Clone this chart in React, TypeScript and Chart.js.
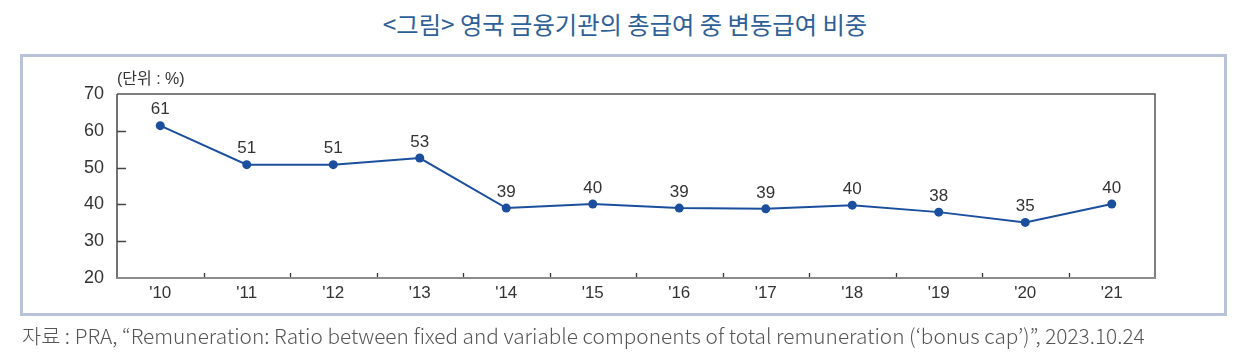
import React, { useEffect, useRef } from "react";
import { Chart, registerables } from "chart.js";

Chart.register(...registerables);

const TITLE = "<그림> 영국 금융기관의 총급여 중 변동급여 비중";
const UNIT_LABEL = "(단위 : %)";
const SOURCE =
  "자료 : PRA, “Remuneration: Ratio between fixed and variable components of total remuneration (‘bonus cap’)”, 2023.10.24";

const categories = ["'10", "'11", "'12", "'13", "'14", "'15", "'16", "'17", "'18", "'19", "'20", "'21"];
const shareValues = [61.4, 50.8, 50.8, 52.6, 39.0, 40.1, 39.0, 38.8, 39.8, 37.9, 35.1, 40.1];
const valueLabels = ["61", "51", "51", "53", "39", "40", "39", "39", "40", "38", "35", "40"];
const yTickValues = [20, 30, 40, 50, 60, 70];

const LINE_COLOR = "#1b4f9e";
const NUM_FONT = "'Liberation Sans', Arial, 'Noto Sans CJK KR', sans-serif";

const framePlugin = {
  id: "frame",
  beforeDatasetsDraw(chart: any) {
    const { ctx, chartArea, scales } = chart;
    const { left, right, top, bottom } = chartArea;
    const x = scales.x;
    const y = scales.y;
    ctx.save();
    ctx.lineCap = "butt";
    ctx.strokeStyle = "#555555";
    ctx.lineWidth = 1.5;
    ctx.beginPath();
    ctx.moveTo(left, top);
    ctx.lineTo(right, top);
    ctx.lineTo(right, bottom);
    ctx.stroke();
    ctx.strokeStyle = "#444444";
    ctx.beginPath();
    ctx.moveTo(left, top);
    ctx.lineTo(left, bottom);
    ctx.stroke();
    for (const v of yTickValues) {
      if (v === yTickValues[0] || v === yTickValues[yTickValues.length - 1]) continue;
      const py = Math.round(y.getPixelForValue(v)) + 0.5;
      ctx.beginPath();
      ctx.moveTo(left, py);
      ctx.lineTo(left + 9, py);
      ctx.stroke();
    }
    ctx.strokeStyle = "#333333";
    ctx.lineWidth = 1.3;
    for (let i = 1; i < categories.length; i++) {
      const px = Math.round((x.getPixelForValue(i - 1) + x.getPixelForValue(i)) / 2) + 0.5;
      ctx.beginPath();
      ctx.moveTo(px, bottom);
      ctx.lineTo(px, bottom - 5);
      ctx.stroke();
    }
    ctx.strokeStyle = "#8c8c8c";
    ctx.lineWidth = 2;
    ctx.beginPath();
    ctx.moveTo(left - 1, bottom);
    ctx.lineTo(right + 1, bottom);
    ctx.stroke();
    ctx.restore();
  },
};

const labelPlugin = {
  id: "valueLabels",
  afterDatasetsDraw(chart: any) {
    const { ctx } = chart;
    const meta = chart.getDatasetMeta(0);
    ctx.save();
    ctx.font = `17px ${NUM_FONT}`;
    ctx.fillStyle = "#333333";
    ctx.textAlign = "center";
    ctx.textBaseline = "middle";
    meta.data.forEach((pt: any, i: number) => {
      ctx.fillText(valueLabels[i], pt.x, pt.y - 16);
    });
    ctx.restore();
  },
};

export default function App() {
  const canvasRef = useRef<HTMLCanvasElement | null>(null);

  useEffect(() => {
    document.body.style.margin = "0";
    const canvas = canvasRef.current;
    if (!canvas) return;
    const chart = new Chart(canvas, {
      type: "line",
      data: {
        labels: categories,
        datasets: [
          {
            data: shareValues,
            borderColor: LINE_COLOR,
            backgroundColor: LINE_COLOR,
            borderWidth: 2,
            pointRadius: 4.5,
            pointBackgroundColor: LINE_COLOR,
            pointBorderColor: LINE_COLOR,
            pointBorderWidth: 0,
            tension: 0,
            fill: false,
          },
        ],
      },
      options: {
        animation: false,
        responsive: false,
        maintainAspectRatio: false,
        layout: { padding: { top: 94, right: 91, bottom: 52, left: 0 } },
        plugins: {
          legend: { display: false },
          tooltip: { enabled: false },
          title: { display: false },
        },
        scales: {
          x: {
            type: "category",
            offset: true,
            grid: { display: false, drawTicks: false },
            border: { display: false },
            ticks: {
              color: "#333333",
              font: { family: NUM_FONT, size: 17 },
              padding: 5,
              maxRotation: 0,
              autoSkip: false,
            },
            afterFit(scale: any) {
              scale.height = 30;
            },
          },
          y: {
            min: 20,
            max: 70,
            grid: { display: false, drawTicks: false },
            border: { display: false },
            ticks: {
              stepSize: 10,
              color: "#333333",
              font: { family: NUM_FONT, size: 18 },
              padding: 13,
            },
            afterFit(scale: any) {
              scale.width = 117;
            },
          },
        },
      },
      plugins: [framePlugin, labelPlugin],
    });
    return () => chart.destroy();
  }, []);

  return (
    <div style={{ position: "relative", width: 1246, height: 360, background: "#ffffff", overflow: "hidden" }}>
      <div
        style={{
          position: "absolute",
          left: 0,
          top: 8,
          width: 1250,
          textAlign: "center",
          fontFamily: "'Noto Sans CJK KR', sans-serif",
          fontSize: 24.3,
          lineHeight: "32px",
          color: "#2f5f98",
          whiteSpace: "nowrap",
        }}
      >
        {TITLE}
      </div>
      <div
        style={{
          position: "absolute",
          left: 20,
          top: 54,
          width: 1201,
          height: 256,
          border: "3px solid #b8c3d9",
        }}
      />
      <canvas
        ref={canvasRef}
        width={1246}
        height={360}
        style={{ position: "absolute", left: 0, top: 0, width: 1246, height: 360 }}
      />
      <div
        style={{
          position: "absolute",
          left: 117,
          top: 68,
          fontFamily: "'Liberation Sans', 'Noto Sans CJK KR', sans-serif",
          fontSize: 16,
          lineHeight: "22px",
          color: "#333333",
          whiteSpace: "nowrap",
        }}
      >
        {UNIT_LABEL}
      </div>
      <div
        style={{
          position: "absolute",
          left: 22,
          top: 321,
          fontFamily: "'Noto Sans CJK KR', sans-serif",
          fontWeight: 300,
          fontSize: 20.8,
          lineHeight: "28px",
          color: "#555555",
          whiteSpace: "nowrap",
        }}
      >
        {SOURCE}
      </div>
    </div>
  );
}
